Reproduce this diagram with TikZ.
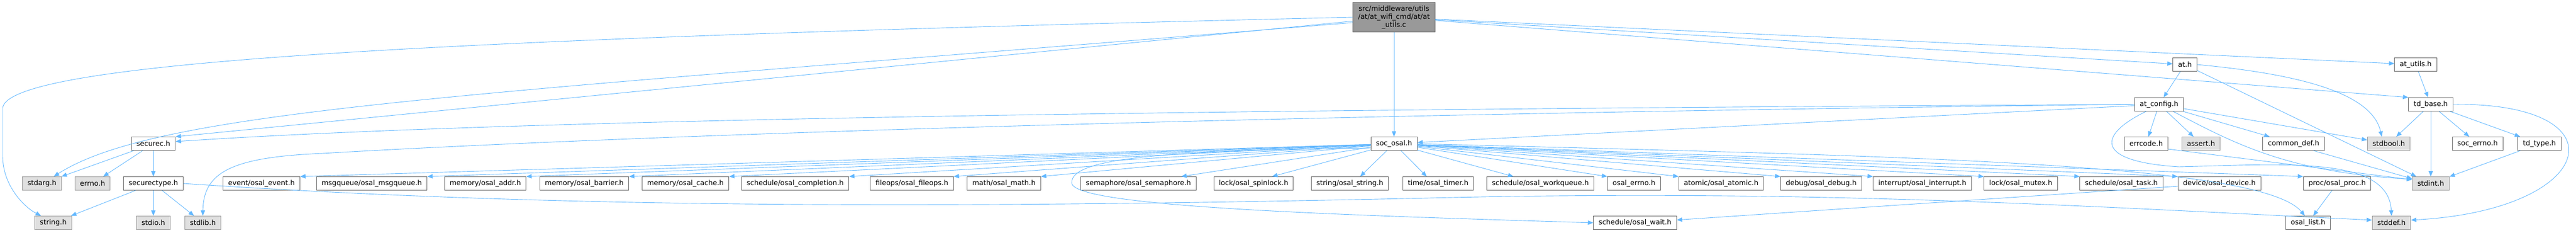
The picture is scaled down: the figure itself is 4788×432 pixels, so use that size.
\documentclass[tikz,border=0pt]{standalone}
\usepackage{fontspec}
\setmainfont{DejaVu Sans}
\usetikzlibrary{arrows.meta}
\definecolor{edgeblue}{HTML}{63B8FF}
\definecolor{boxline}{HTML}{666666}
\definecolor{sysline}{HTML}{999999}
\definecolor{sysfill}{HTML}{E0E0E0}
\definecolor{rootfill}{HTML}{999999}
\tikzset{
    hdr/.style={draw=boxline, fill=white, line width=1pt, minimum height=25pt, inner xsep=9.5pt, inner ysep=0pt, font=\fontsize{13}{15}\selectfont},
    sys/.style={hdr, draw=sysline, fill=sysfill},
    root/.style={hdr, fill=rootfill, align=center, inner ysep=6pt},
    inc/.style={draw=edgeblue, line width=0.9pt, -{Triangle[length=10pt,width=8pt]}}
}
\begin{document}
\begin{tikzpicture}[x=1pt,y=-1pt]
                \useasboundingbox (0,0) rectangle (4788,432);
                \node[root] (src) at (2591,32) {src/middleware/utils\\/at/at\_wifi\_cmd/at/at\\\_utils.c};
                \node[hdr] (at) at (4061,120) {at.h};
                \node[hdr] (atutils) at (4490,120) {at\_utils.h};
                \node[hdr] (atcfg) at (4013,194) {at\_config.h};
                \node[hdr] (tdbase) at (4518,194) {td\_base.h};
                \node[hdr] (securec) at (285,267) {securec.h};
                \node[hdr] (socosal) at (2591,267) {soc\_osal.h};
                \node[hdr] (errcode) at (3989,267) {errcode.h};
                \node[sys] (assert) at (4091,267) {assert.h};
                \node[hdr] (commondef) at (4263,267) {common\_def.h};
                \node[sys] (stdbool) at (4440,267) {stdbool.h};
                \node[hdr] (socerrno) at (4605,267) {soc\_errno.h};
                \node[hdr] (tdtype) at (4720,267) {td\_type.h};
                \node[sys] (stdarg) at (78,341) {stdarg.h};
                \node[sys] (errno) at (172,341) {errno.h};
                \node[hdr] (sctype) at (285,341) {securectype.h};
                \node[hdr] (event) at (486,341) {event/osal\_event.h};
                \node[hdr] (msgq) at (691,341) {msgqueue/osal\_msgqueue.h};
                \node[hdr] (addr) at (902,341) {memory/osal\_addr.h};
                \node[hdr] (barrier) at (1086,341) {memory/osal\_barrier.h};
                \node[hdr] (cache) at (1274,341) {memory/osal\_cache.h};
                \node[hdr] (compl) at (1478,341) {schedule/osal\_completion.h};
                \node[hdr] (fileops) at (1695,341) {fileops/osal\_fileops.h};
                \node[hdr] (math) at (1866,341) {math/osal\_math.h};
                \node[hdr] (sem) at (2116,341) {semaphore/osal\_semaphore.h};
                \node[hdr] (spin) at (2330,341) {lock/osal\_spinlock.h};
                \node[hdr] (str) at (2509,341) {string/osal\_string.h};
                \node[hdr] (timer) at (2673,341) {time/osal\_timer.h};
                \node[hdr] (wq) at (2863,341) {schedule/osal\_workqueue.h};
                \node[hdr] (oerrno) at (3037,341) {osal\_errno.h};
                \node[hdr] (atomic) at (3199,341) {atomic/osal\_atomic.h};
                \node[hdr] (debug) at (3385,341) {debug/osal\_debug.h};
                \node[hdr] (intr) at (3573,341) {interrupt/osal\_interrupt.h};
                \node[hdr] (mutex) at (3756,341) {lock/osal\_mutex.h};
                \node[hdr] (task) at (3943,341) {schedule/osal\_task.h};
                \node[hdr] (device) at (4125,341) {device/osal\_device.h};
                \node[hdr] (proc) at (4344,341) {proc/osal\_proc.h};
                \node[sys] (stdint) at (4518,341) {stdint.h};
                \node[sys] (stringh) at (99,414) {string.h};
                \node[sys] (stdio) at (285,414) {stdio.h};
                \node[sys] (stdlib) at (377,414) {stdlib.h};
                \node[hdr] (wait) at (3039,414) {schedule/osal\_wait.h};
                \node[hdr] (osallist) at (4290,414) {osal\_list.h};
                \node[sys] (stddef) at (4445,414) {stddef.h};

                \draw[inc] (src.west) .. controls (900,70) and (20,110) .. (5,200) -- (5,290) .. controls (5,345) and (45,385) .. ([xshift=12pt]stringh.north west);
                \draw[inc] ([yshift=-10pt]src.west) .. controls (900,175) and (300,200) .. ([xshift=-15pt]stdarg.north east);
                \draw[inc] (src) -- (securec.north east);
                \draw[inc] (src) -- (at);
                \draw[inc] (src) -- (atutils);
                \draw[inc] (src) -- (tdbase.north west);
                \draw[inc] (src) -- (socosal);

                \draw[inc] (at) -- (atcfg);
                \draw[inc] (at.east) .. controls (4300,140) and (4410,180) .. ([xshift=-13pt]stdbool.north);
                \draw[inc] (at) -- (stdint);
                \draw[inc] (atutils) -- (tdbase);

                \draw[inc] (atcfg.west) .. controls (2000,205) and (900,225) .. ([yshift=4pt]securec.east);
                \draw[inc] (atcfg.west) .. controls (2400,212) and (1200,250) .. (600,285) .. controls (430,292) and (378,320) .. (stdlib.north);
                \draw[inc] (atcfg) -- (socosal);
                \draw[inc] (atcfg) -- (errcode);
                \draw[inc] (atcfg) -- (assert);
                \draw[inc] (atcfg) -- (commondef);
                \draw[inc] (atcfg) -- (stdbool);
                \draw[inc] ([xshift=26pt]atcfg.south) .. controls (4150,265) and (4250,320) .. ([yshift=8pt]stdint.west);
                \draw[inc] ([xshift=-24pt]atcfg.south) .. controls (3900,250) and (3890,300) .. (4050,310) .. controls (4250,305) and (4440,290) .. (stddef.north);
                \draw[inc] ([yshift=-10pt]errcode.east) -- ([yshift=7pt]stdint.west);
                \draw[inc] ([xshift=37pt]commondef.south) -- ([yshift=9pt]stdint.west);

                \draw[inc] (tdbase) -- (stdbool);
                \draw[inc] (tdbase) -- (stdint);
                \draw[inc] (tdbase) -- (socerrno);
                \draw[inc] (tdbase) -- (tdtype);
                \draw[inc] (tdbase.east) .. controls (4880,190) and (4830,390) .. ([yshift=5pt]stddef.east);
                \draw[inc] (tdtype) -- (stdint);

                \draw[inc] (securec) -- (stdarg);
                \draw[inc] (securec) -- (errno);
                \draw[inc] (securec) -- (sctype);
                \draw[inc] (sctype) -- (stringh);
                \draw[inc] (sctype) -- (stdio);
                \draw[inc] (sctype) -- (stdlib);
                \draw[inc] (sctype.east) .. controls (1000,385) and (1700,390) .. (2700,367) .. controls (3400,352) and (3900,385) .. ([yshift=5pt]stddef.west);

                \foreach \n in {event,msgq,addr,barrier,cache,compl,fileops,math}
                    \draw[inc] (socosal) -- (\n.north east);
                \draw[inc] (socosal) -- ([xshift=-28pt]sem.north east);
                \draw[inc] (socosal) -- ([xshift=-40pt]spin.north east);
                \draw[inc] (socosal) -- ([xshift=-53pt]str.north east);
                \draw[inc] (socosal) -- ([xshift=45pt]timer.north west);
                \draw[inc] (socosal) -- ([xshift=50pt]wq.north west);
                \foreach \n in {oerrno,atomic,debug,intr,mutex,task,device,proc}
                    \draw[inc] (socosal) -- (\n.north west);
                \draw[inc] ([yshift=-8pt]socosal.west) .. controls (2150,280) and (1990,295) .. (1992,340) .. controls (1995,385) and (2500,400) .. (wait.west);
                \draw[inc] (socosal.east) .. controls (3500,290) and (4200,300) .. ([xshift=-6pt]osallist.north);
                \draw[inc] (device) -- (wait);
                \draw[inc] (proc) -- (osallist);
\end{tikzpicture}
\end{document}
